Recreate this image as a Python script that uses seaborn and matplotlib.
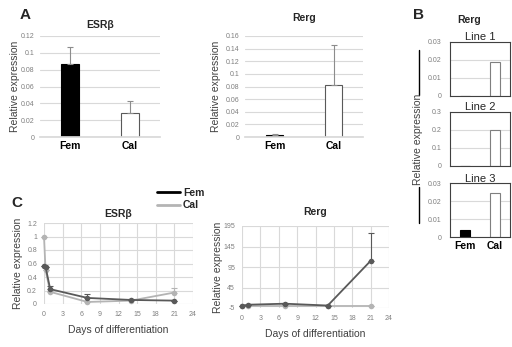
import numpy as np
import pandas as pd
import matplotlib
matplotlib.use("Agg")
import matplotlib.pyplot as plt
from matplotlib.lines import Line2D
import seaborn as sns

# ---------------- data ----------------
groups = ["Fem", "Cal"]

esr_a = [0.087, 0.029]
esr_a_err = [0.020, 0.014]
rerg_a = [0.003, 0.083]
rerg_a_err = [0.002, 0.062]

line_names = ["Line 1", "Line 2", "Line 3"]
line1 = [0.0, 0.019]
line2 = [0.002, 0.20]
line3 = [0.004, 0.0245]
line_ymax = [0.03, 0.3, 0.03]
line_ticks = [[0, 0.01, 0.02, 0.03], [0, 0.1, 0.2, 0.3], [0, 0.01, 0.02, 0.03]]

days_esr = [0, 0.25, 1, 7, 14, 21]
esr_fem = [0.57, 0.55, 0.22, 0.09, 0.06, 0.05]
esr_fem_err = [0.0, 0.0, 0.05, 0.06, 0.02, 0.0]
esr_cal = [1.0, 0.50, 0.18, 0.03, 0.05, 0.17]
esr_cal_err = [0.0, 0.0, 0.02, 0.01, 0.01, 0.06]

days_rerg = [0, 1, 7, 14, 21]
rerg_fem = [0.6, 3.0, 5.5, 1.0, 110.0]
rerg_fem_err = [0.0, 0.0, 0.0, 0.0, 68.0]
rerg_cal = [0.0, 0.0, 0.0, 0.0, 0.0]

esr_yticks = [0, 0.2, 0.4, 0.6, 0.8, 1.0, 1.2]
rerg_yticks = [-5, 45, 95, 145, 195]
day_ticks = [0, 3, 6, 9, 12, 15, 18, 21, 24]

# ---------------- style ----------------
sns.set_theme(style="white")
plt.rcParams["font.family"] = ["Liberation Sans", "DejaVu Sans"]

W, H = 512, 347
fig = plt.figure(figsize=(W / 100, H / 100), dpi=100)

GRID = "#d9d9d9"
TICKC = "#7f7f7f"
FEMC = "#595959"
CALC = "#b4b4b4"


def ax_px(x0, y0, x1, y1):
    return fig.add_axes([x0 / W, 1 - y1 / H, (x1 - x0) / W, (y1 - y0) / H])


def fmt(v):
    return f"{v:g}"


def ftext(x, y, s, **kw):
    fig.text(x / W, 1 - y / H, s, **kw)


# ---------------- panel A ----------------
def bar_panel(ax, vals, errs, ymax, step, title, title_pad):
    df = pd.DataFrame({"g": groups, "v": vals})
    sns.barplot(data=df, x="g", y="v", hue="g", palette={"Fem": "black", "Cal": "white"},
                width=0.3, legend=False, ax=ax, linewidth=0.8)
    for p, ec in zip(ax.patches, ["black", "#595959"]):
        p.set_edgecolor(ec)
    ax.errorbar([0, 1], vals, yerr=[np.zeros(2), errs], fmt="none", ecolor="#8c8c8c",
                elinewidth=0.8, capsize=2, capthick=0.8)
    ax.set_xlim(-0.5, 1.5)
    ax.set_ylim(0, ymax)
    ticks = np.round(np.arange(0, ymax + step / 2, step), 3)
    ax.set_yticks(ticks)
    ax.set_yticklabels([fmt(t) for t in ticks])
    ax.yaxis.grid(True, color=GRID, lw=0.8)
    ax.set_axisbelow(True)
    for s in ["left", "right", "top"]:
        ax.spines[s].set_visible(False)
    ax.spines["bottom"].set_color(GRID)
    ax.tick_params(axis="y", length=0, labelsize=5, labelcolor=TICKC, pad=4)
    ax.tick_params(axis="x", length=0, labelsize=7.5, labelcolor="black", pad=3)
    for lbl in ax.get_xticklabels():
        lbl.set_fontweight("bold")
    ax.set_xlabel("")
    ax.set_ylabel("")
    ax.set_title(title, fontsize=7.5, fontweight="bold", pad=title_pad)


axA1 = ax_px(40, 36, 160, 137)
bar_panel(axA1, esr_a, esr_a_err, 0.12, 0.02, "ESRβ", 6)
axA2 = ax_px(245, 36, 363, 137)
bar_panel(axA2, rerg_a, rerg_a_err, 0.16, 0.02, "Rerg", 11)

ftext(15, 86, "Relative expression", rotation=90, ha="center", va="center", fontsize=7.5, color="#404040")
ftext(216, 86, "Relative expression", rotation=90, ha="center", va="center", fontsize=7.5, color="#404040")

# ---------------- panel B ----------------
b_boxes = [(42, 96), (112, 166), (183, 237)]
for i, (vals, ymax, ticks, name, (y0, y1)) in enumerate(
        zip([line1, line2, line3], line_ymax, line_ticks, line_names, b_boxes)):
    ax = ax_px(450, y0, 510, y1)
    df = pd.DataFrame({"g": groups, "v": vals})
    sns.barplot(data=df, x="g", y="v", hue="g", palette={"Fem": "black", "Cal": "white"},
                width=0.35, legend=False, ax=ax, linewidth=0.8)
    for p, ec in zip(ax.patches, ["black", "#7f7f7f"]):
        p.set_edgecolor(ec)
    ax.set_xlim(-0.5, 1.5)
    ax.set_ylim(0, ymax)
    ax.set_yticks(ticks)
    ax.set_yticklabels([fmt(t) for t in ticks])
    ax.yaxis.grid(True, color=GRID, lw=0.8)
    ax.set_axisbelow(True)
    for s in ax.spines.values():
        s.set_visible(True)
        s.set_color("#404040")
        s.set_linewidth(0.8)
    ax.tick_params(axis="y", length=0, labelsize=5, labelcolor=TICKC, pad=6)
    ax.tick_params(axis="x", length=0, labelsize=7.5, labelcolor="black", pad=3)
    if i < 2:
        ax.set_xticklabels([])
    else:
        for lbl in ax.get_xticklabels():
            lbl.set_fontweight("bold")
    ax.set_xlabel("")
    ax.set_ylabel("")
    ax.set_title(name, fontsize=8, pad=1)

ftext(469, 20, "Rerg", ha="center", va="center", fontsize=7.5, fontweight="bold")
ftext(418, 139, "Relative expression", rotation=90, ha="center", va="center", fontsize=7.5, color="#404040")
for ya, yb in [(50, 95), (187, 223)]:
    fig.add_artist(Line2D([419 / W, 419 / W], [1 - ya / H, 1 - yb / H], color="black", lw=1,
                          transform=fig.transFigure))

# ---------------- panel C ----------------
def line_panel(ax, days, fem, fem_err, cal, cal_err, yticks, title, title_pad):
    for vals, errs, col in [(cal, cal_err, CALC), (fem, fem_err, FEMC)]:
        sns.lineplot(x=days, y=vals, color=col, marker="o", markersize=4, markeredgewidth=0,
                     linewidth=1.3, ax=ax, clip_on=False, errorbar=None)
        ax.errorbar(days, vals, yerr=[np.zeros(len(vals)), errs], fmt="none", ecolor=col,
                    elinewidth=0.8, capsize=2, capthick=0.8, clip_on=False)
    ax.set_xlim(0, 24)
    ax.set_xticks(day_ticks)
    ax.set_ylim(yticks[0], yticks[-1])
    ax.set_yticks(yticks)
    ax.set_yticklabels([fmt(t) for t in yticks])
    ax.grid(True, color=GRID, lw=0.8)
    ax.set_axisbelow(True)
    for s in ax.spines.values():
        s.set_visible(False)
    ax.tick_params(length=0, labelsize=5, labelcolor=TICKC)
    ax.tick_params(axis="y", pad=5)
    ax.tick_params(axis="x", pad=5)
    ax.set_xlabel("Days of differentiation", fontsize=7.5, color="#404040", labelpad=5)
    ax.set_ylabel("")
    ax.set_title(title, fontsize=7.5, fontweight="bold", pad=title_pad)


axC1 = ax_px(44, 223, 193, 304)
line_panel(axC1, days_esr, esr_fem, esr_fem_err, esr_cal, esr_cal_err, esr_yticks, "ESRβ", 4)
axC2 = ax_px(242, 226, 389, 308)
line_panel(axC2, days_rerg, rerg_fem, rerg_fem_err, rerg_cal, [0] * 5, rerg_yticks, "Rerg", 8)

ftext(18, 263, "Relative expression", rotation=90, ha="center", va="center", fontsize=7.5, color="#404040")
ftext(218, 267, "Relative expression", rotation=90, ha="center", va="center", fontsize=7.5, color="#404040")

handles = [Line2D([], [], color="black", lw=2), Line2D([], [], color=CALC, lw=2)]
fig.legend(handles, groups, loc="center left", bbox_to_anchor=(157 / W, 1 - 199 / H), frameon=False,
           prop={"size": 7.5, "weight": "bold"}, handlelength=2.2, handletextpad=0.3,
           labelspacing=0.25, borderpad=0, borderaxespad=0)

# ---------------- panel letters ----------------
ftext(25, 15, "A", ha="center", va="center", fontsize=11, fontweight="bold")
ftext(418, 15, "B", ha="center", va="center", fontsize=11, fontweight="bold")
ftext(17, 203, "C", ha="center", va="center", fontsize=11, fontweight="bold")

fig.savefig("out.png", dpi=100)
